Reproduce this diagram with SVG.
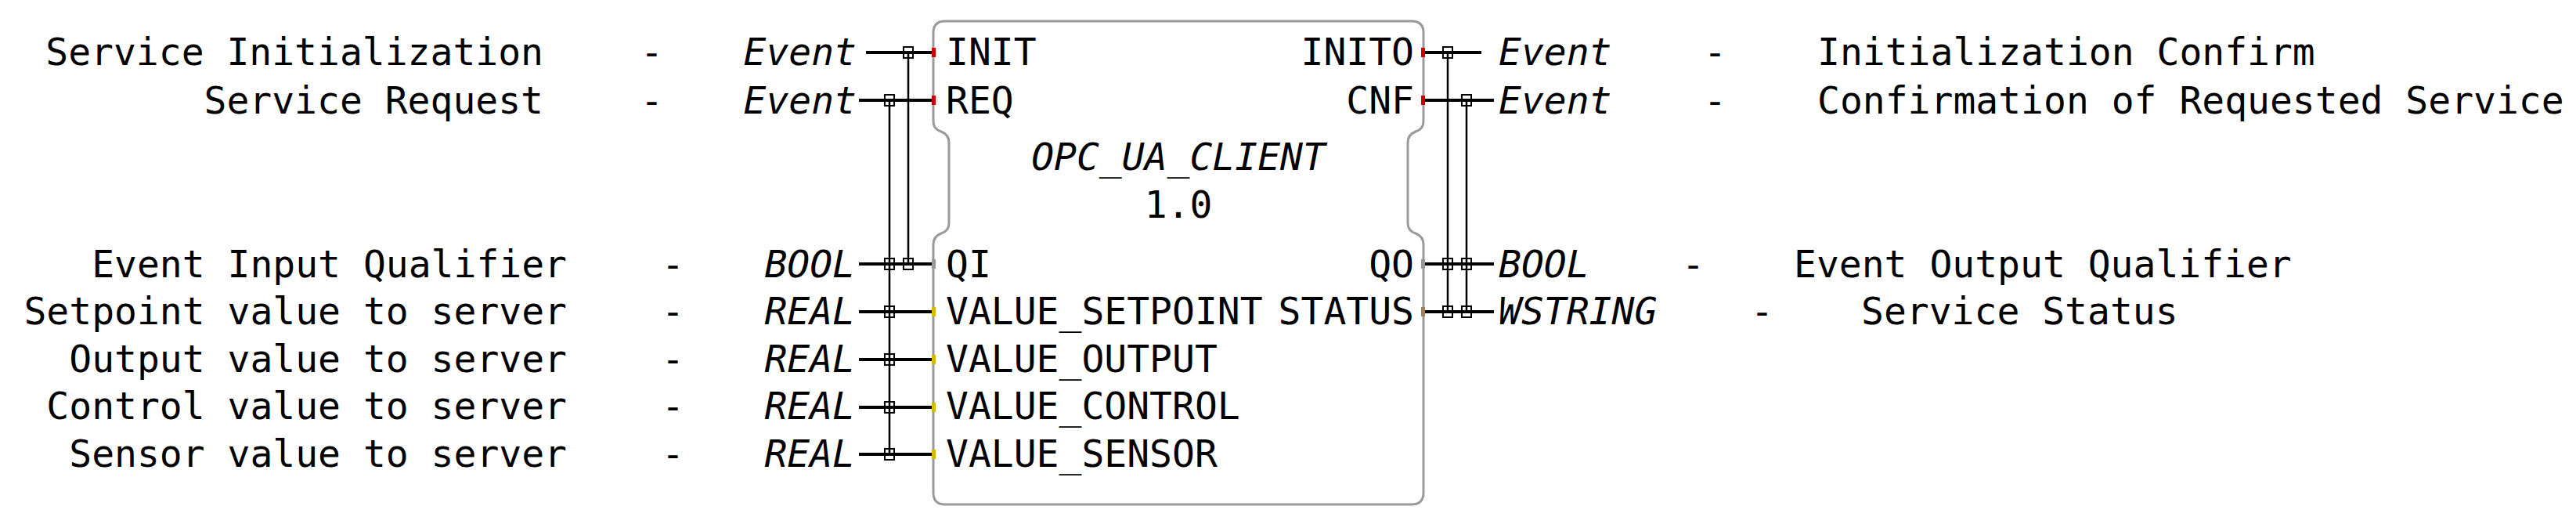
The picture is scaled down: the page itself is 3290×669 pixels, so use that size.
<svg xmlns="http://www.w3.org/2000/svg" width="3290" height="669" viewBox="0 0 3290 669">
<style>
text{font-family:"DejaVu Sans Mono","Liberation Mono",monospace;font-size:48px;fill:#000}
.it{font-style:italic}
.e{text-anchor:end}
.m{text-anchor:middle}
.h{stroke:#000;stroke-width:4;fill:none}
.v{stroke:#000;stroke-width:2.5;fill:none}
.sq{stroke:#000;stroke-width:2;fill:none}
</style>
<rect width="3290" height="669" fill="#fff"/>
<g id="fb">
<path d="M1207 27H1803Q1818 27 1818 42V155Q1818 165 1808 168Q1798 172 1798 182V285Q1798 295 1808 298Q1818 302 1818 312V629Q1818 644 1803 644H1207Q1192 644 1192 629V312Q1192 302 1202 298Q1212 295 1212 285V182Q1212 172 1202 168Q1192 165 1192 155V42Q1192 27 1207 27Z" fill="#fff" stroke="#9a9a9a" stroke-width="3"/>
<text class="it m" x="1505" y="217">OPC_UA_CLIENT</text>
<text class="m" x="1505" y="278">1.0</text>
<text x="1208" y="83">INIT</text>
<text x="1208" y="145">REQ</text>
<text x="1208" y="354">QI</text>
<text x="1208" y="414">VALUE_SETPOINT</text>
<text x="1208" y="475">VALUE_OUTPUT</text>
<text x="1208" y="535">VALUE_CONTROL</text>
<text x="1208" y="596">VALUE_SENSOR</text>
<text class="e" x="1806" y="83">INITO</text>
<text class="e" x="1806" y="145">CNF</text>
<text class="e" x="1806" y="354">QO</text>
<text class="e" x="1806" y="414">STATUS</text>
<g fill="#d00000"><rect x="1190" y="61" width="5" height="12"/><rect x="1190" y="122" width="5" height="12"/><rect x="1815" y="61" width="5" height="12"/><rect x="1815" y="122" width="5" height="12"/></g>
<g fill="#d8b800"><rect x="1190" y="392" width="5" height="12"/><rect x="1190" y="453" width="5" height="12"/><rect x="1190" y="514" width="5" height="12"/><rect x="1190" y="574" width="5" height="12"/></g>
<rect x="1190" y="331" width="5" height="12" fill="#999"/>
<rect x="1815" y="331" width="5" height="12" fill="#999"/>
<rect x="1815" y="392" width="5" height="12" fill="#a08060"/>
</g>
<g id="labels-left">
<text class="e" x="694" y="83">Service Initialization</text>
<text class="e" x="694" y="145">Service Request</text>
<text class="e" x="724" y="354">Event Input Qualifier</text>
<text class="e" x="724" y="414">Setpoint value to server</text>
<text class="e" x="724" y="475">Output value to server</text>
<text class="e" x="724" y="535">Control value to server</text>
<text class="e" x="724" y="596">Sensor value to server</text>
<text x="818" y="83">-</text><text x="818" y="145">-</text>
<text x="845" y="354">-</text><text x="845" y="414">-</text><text x="845" y="475">-</text><text x="845" y="535">-</text><text x="845" y="596">-</text>
<text class="it e" x="1094" y="83">Event</text>
<text class="it e" x="1094" y="145">Event</text>
<text class="it e" x="1092" y="354">BOOL</text>
<text class="it e" x="1092" y="414">REAL</text>
<text class="it e" x="1092" y="475">REAL</text>
<text class="it e" x="1092" y="535">REAL</text>
<text class="it e" x="1092" y="596">REAL</text>
</g>
<g id="labels-right">
<text class="it" x="1914" y="83">Event</text>
<text class="it" x="1914" y="145">Event</text>
<text class="it" x="1914" y="354">BOOL</text>
<text class="it" x="1914" y="414">WSTRING</text>
<text x="2176" y="83">-</text><text x="2176" y="145">-</text><text x="2148" y="354">-</text><text x="2236" y="414">-</text>
<text x="2321" y="83">Initialization Confirm</text>
<text x="2321" y="145">Confirmation of Requested Service</text>
<text x="2291" y="354">Event Output Qualifier</text>
<text x="2377" y="414">Service Status</text>
</g>
<g id="connectors">
<path class="h" d="M1106 67H1190M1097 128H1190M1097 337H1190M1097 398H1190M1097 459H1190M1097 520H1190M1097 580H1190"/>
<path class="h" d="M1820 67H1892M1820 128H1908M1820 337H1908M1820 398H1908"/>
<path class="v" d="M1160 67V337M1136 128V580M1849 67V398M1873 128V398"/>
<g class="sq">
<rect x="1154" y="60" width="12" height="14"/><rect x="1130" y="121" width="12" height="14"/>
<rect x="1130" y="330" width="12" height="14"/><rect x="1154" y="330" width="12" height="14"/>
<rect x="1130" y="391" width="12" height="14"/><rect x="1130" y="452" width="12" height="14"/>
<rect x="1130" y="513" width="12" height="14"/><rect x="1130" y="573" width="12" height="14"/>
<rect x="1843" y="60" width="12" height="14"/><rect x="1867" y="121" width="12" height="14"/>
<rect x="1843" y="330" width="12" height="14"/><rect x="1867" y="330" width="12" height="14"/>
<rect x="1843" y="391" width="12" height="14"/><rect x="1867" y="391" width="12" height="14"/>
</g>
</g>
</svg>
